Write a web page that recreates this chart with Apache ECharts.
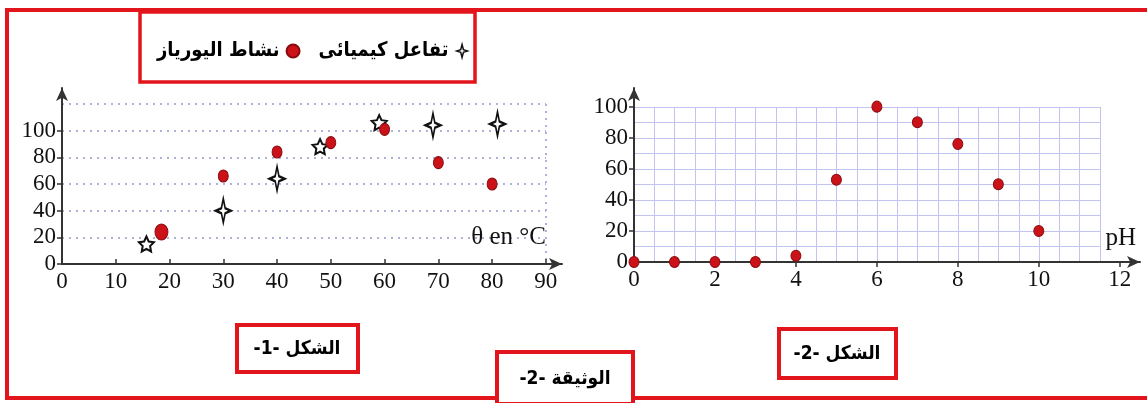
<!DOCTYPE html>
<html>
<head>
<meta charset="utf-8">
<script src="https://cdn.jsdelivr.net/npm/echarts@6/dist/echarts.min.js"></script>
<style>
  html, body { margin: 0; padding: 0; background: #fff; }
  #main { width: 1147px; height: 403px; }
</style>
</head>
<body>
<div id="main"></div>
<script>
// figure 1 : temperature
const tempUrease = [18.5, 30, 40, 50, 60, 70, 80];
const ureaseActivity = [24, 66, 84, 91, 101, 76, 60];
const tempChem = [15.7, 30, 40, 48, 59, 69, 81];
const chemRate = [15, 40, 64, 88, 106, 104, 105];
const tempTicks = [0, 10, 20, 30, 40, 50, 60, 70, 80, 90];
const leftYTicks = [0, 20, 40, 60, 80, 100];

// figure 2 : pH
const phValues = [0, 1, 2, 3, 4, 5, 6, 7, 8, 9, 10];
const phActivity = [0, 0, 0, 0, 4, 53, 100, 90, 76, 50, 20];
const phTicks = [0, 2, 4, 6, 8, 10, 12];
const rightYTicks = [0, 20, 40, 60, 80, 100];

const ureaseName = 'نشاط اليورياز';
const chemName = 'تفاعل كيميائى';

const RED = '#e3151c';
const DOT = '#cc1219';
const sparkle = 'path://M0,-12 L2.5,-2.5 L10,0 L2.5,2.5 L0,12 L-2.5,2.5 L-10,0 L-2.5,-2.5 Z';
const star5 = 'path://M0,-10 L2.9,-4 L9.5,-3.1 L4.7,1.5 L5.9,8.1 L0,5 L-5.9,8.1 L-4.7,1.5 L-9.5,-3.1 L-2.9,-4 Z';
// which marker each chem point uses in the picture
const chemMarkers = [star5, sparkle, sparkle, star5, star5, sparkle, sparkle];

const numFont = { fontFamily: 'Liberation Serif', fontSize: 23, color: '#111' };
const arFont = '"DejaVu Sans Condensed", "DejaVu Sans"';

function axisBase(min, max, ticks, tickInside) {
  return {
    type: 'value', min: min, max: max,
    axisLine: { show: true, lineStyle: { color: '#333', width: 2 }, symbol: ['none', 'arrow'], symbolSize: [9, 13] },
    axisTick: { show: true, inside: !!tickInside, length: 5, customValues: ticks, lineStyle: { color: '#333', width: 1.5 } },
    axisLabel: Object.assign({ customValues: ticks, margin: 6 }, numFont),
    splitLine: { show: false }
  };
}
function linesAxis(min, max, interval, lineStyle) {
  return {
    type: 'value', min: min, max: max, interval: interval,
    axisLine: { show: false }, axisTick: { show: false }, axisLabel: { show: false },
    splitLine: { show: true, lineStyle: lineStyle }
  };
}

const dotted = { color: '#aeb1d8', width: 2, type: [2, 5] };
const paper = { color: '#c3c3ef', width: 1 };

const chart = echarts.init(document.getElementById('main'));
const option = {
  backgroundColor: '#fff',
  animation: false,
  grid: [
    { left: 62, top: 88, width: 500, height: 176, containLabel: false, outerBoundsMode: 'none' },
    { left: 62, top: 104, width: 484, height: 160, containLabel: false, outerBoundsMode: 'none' },
    { left: 634, top: 88, width: 506, height: 174, containLabel: false, outerBoundsMode: 'none' },
    { left: 634, top: 107, width: 466, height: 155, containLabel: false, outerBoundsMode: 'none' }
  ],
  xAxis: [
    Object.assign(axisBase(0, 93, tempTicks, true), { gridIndex: 0 }),
    Object.assign(linesAxis(0, 90, 90, dotted), { gridIndex: 1 }),
    Object.assign(axisBase(0, 12.5, phTicks, false), { gridIndex: 2 }),
    Object.assign(linesAxis(0, 11.5, 0.5, paper), { gridIndex: 3 })
  ],
  yAxis: [
    Object.assign(axisBase(0, 132, leftYTicks, false), { gridIndex: 0 }),
    Object.assign(linesAxis(0, 120, 20, dotted), { gridIndex: 1 }),
    Object.assign(axisBase(0, 112, rightYTicks, false), { gridIndex: 2 }),
    Object.assign(linesAxis(0, 100, 10, paper), { gridIndex: 3 })
  ],
  legend: {
    left: 152, top: 36, align: 'right', itemGap: 18,
    itemWidth: 13, itemHeight: 13,
    textStyle: { fontFamily: arFont, fontWeight: 'bold', fontSize: 20, color: '#000', padding: [0, 2, 0, 0] },
    data: [
      { name: ureaseName, icon: 'circle', itemStyle: { color: DOT } },
      { name: chemName, icon: sparkle, itemStyle: { color: '#fff', borderColor: '#111', borderWidth: 1.5 } }
    ]
  },
  series: [
    {
      name: chemName, type: 'scatter', xAxisIndex: 0, yAxisIndex: 0, z: 3,
      data: tempChem.map((t, i) => [t, chemRate[i]]),
      symbol: (v, p) => chemMarkers[p.dataIndex],
      symbolSize: (v, p) => chemMarkers[p.dataIndex] === star5 ? [15, 15] : [15, 24],
      itemStyle: { color: '#fff', borderColor: '#111', borderWidth: 2, opacity: 1 }
    },
    {
      name: ureaseName, type: 'scatter', xAxisIndex: 0, yAxisIndex: 0, z: 4,
      data: tempUrease.map((t, i) => [t, ureaseActivity[i]]),
      symbol: 'circle',
      symbolSize: (v, p) => p.dataIndex === 0 ? [13, 16] : [10, 12],
      itemStyle: { color: DOT, borderColor: '#8a0a0e', borderWidth: 1, opacity: 1 }
    },
    {
      name: 'pH', type: 'scatter', xAxisIndex: 2, yAxisIndex: 2, z: 4,
      data: phValues.map((p, i) => [p, phActivity[i]]),
      symbol: 'circle', symbolSize: [10, 11],
      itemStyle: { color: DOT, borderColor: '#8a0a0e', borderWidth: 1, opacity: 1 }
    }
  ],
  graphic: [
    { type: 'rect', z: 100, shape: { x: 7, y: 10, width: 1160, height: 388 }, style: { fill: 'none', stroke: RED, lineWidth: 4 } },
    { type: 'rect', z: 100, shape: { x: 140, y: 12, width: 335, height: 70 }, style: { fill: 'none', stroke: RED, lineWidth: 3.5 } },
    { type: 'text', z: 100, x: 546, y: 250, style: { text: 'θ en °C', align: 'right', verticalAlign: 'bottom', font: '25px "Liberation Serif"', fill: '#111' } },
    { type: 'text', z: 100, x: 1136, y: 251, style: { text: 'pH', align: 'right', verticalAlign: 'bottom', font: '25px "Liberation Serif"', fill: '#111' } },
    { type: 'rect', z: 100, shape: { x: 237, y: 325, width: 121, height: 47 }, style: { fill: '#fff', stroke: RED, lineWidth: 4 } },
    { type: 'text', z: 101, x: 297, y: 349, style: { text: '-1- الشكل', align: 'center', verticalAlign: 'middle', font: 'bold 19px ' + arFont, fill: '#000' } },
    { type: 'rect', z: 100, shape: { x: 497, y: 352, width: 136, height: 52 }, style: { fill: '#fff', stroke: RED, lineWidth: 4 } },
    { type: 'text', z: 101, x: 565, y: 379, style: { text: '-2- الوثيقة', align: 'center', verticalAlign: 'middle', font: 'bold 19px ' + arFont, fill: '#000' } },
    { type: 'rect', z: 100, shape: { x: 779, y: 329, width: 117, height: 49 }, style: { fill: '#fff', stroke: RED, lineWidth: 4 } },
    { type: 'text', z: 101, x: 837, y: 354, style: { text: '-2- الشكل', align: 'center', verticalAlign: 'middle', font: 'bold 19px ' + arFont, fill: '#000' } }
  ]
};
chart.setOption(option);
</script>
</body>
</html>
